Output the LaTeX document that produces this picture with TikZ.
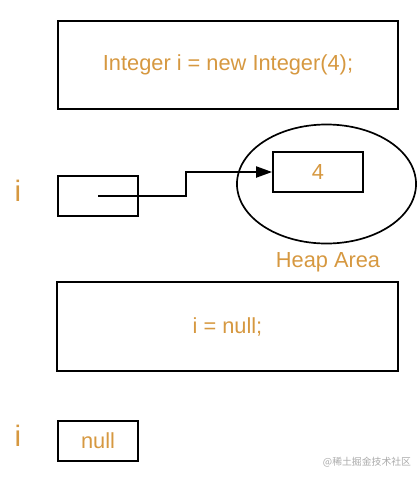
\documentclass[tikz,border=0pt]{standalone}
\usepackage{fontspec}
\setmainfont{Liberation Sans}
\newfontfamily\cjkfont{Noto Sans CJK SC}
\usetikzlibrary{shapes.geometric, arrows.meta, positioning}
\usepackage{xcolor}
\definecolor{codeorange}{RGB}{214, 152, 64}
\definecolor{markgray}{RGB}{170, 170, 170}
\definecolor{linedark}{RGB}{0, 0, 0}

\begin{document}
\begin{tikzpicture}[
    x=0.025cm, y=-0.025cm,
    membox/.style={rectangle, draw=linedark, line width=1.4pt, align=center, text=codeorange, font=\fontsize{15.5}{18}\selectfont},
    varname/.style={text=codeorange, font=\fontsize{21}{24}\selectfont},
    heapzone/.style={ellipse, draw=linedark, line width=1.2pt, minimum width=4.475cm, minimum height=2.975cm, inner sep=0pt},
    ptr/.style={-{Triangle[length=4mm, width=2.8mm]}, line width=1.2pt, color=linedark},
]
\useasboundingbox (0, 0) rectangle (420, 480);

% First statement
\node[membox, minimum width=8.5cm, minimum height=2.2cm] (decl) at (228, 65) {Integer i = new Integer(4);};

% Reference i and heap object
\node[varname] (ivarA) at (18, 191) {i};
\node[membox, minimum width=2cm, minimum height=1cm] (refbox) at (98, 196) {};
\node[heapzone] (heap) at (326.5, 184) {};
\node[membox, minimum width=2.25cm, minimum height=1cm] (valbox) at (318, 172) {4};
\node[text=codeorange, font=\fontsize{15.5}{18}\selectfont] (heaplabel) at (328, 262) {Heap Area};

\coordinate (kink) at (186, 184);
\draw[ptr] (refbox.center) -| (kink) |- (valbox.west);

% Second statement
\node[membox, minimum width=8.525cm, minimum height=2.225cm] (assign) at (227.5, 326.5) {i = null;};

% Reference i after assignment
\node[varname] (ivarB) at (18, 436) {i};
\node[membox, minimum width=2cm, minimum height=1cm] (nullbox) at (98, 441) {null};

% Watermark
\node[text=markgray, font=\fontsize{7}{8}\selectfont\cjkfont] (mark) at (367, 462) {@稀土掘金技术社区};

\end{tikzpicture}
\end{document}
